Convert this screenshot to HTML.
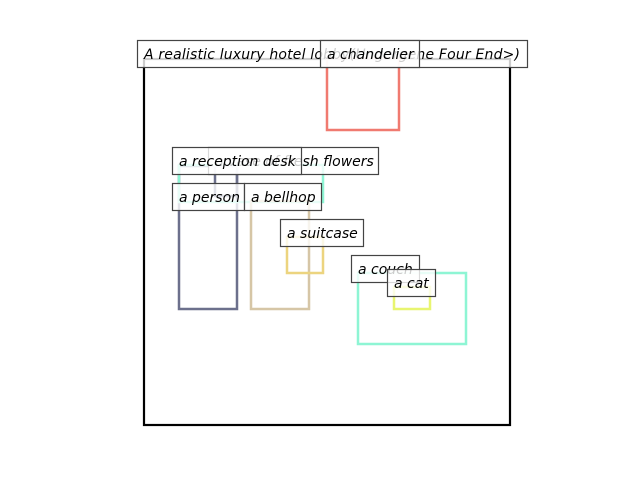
<!DOCTYPE html>
<html><head><style>
html,body{margin:0;padding:0;background:#fff;}
svg{display:block;}
text{font-family:"DejaVu Sans","Liberation Sans",sans-serif;font-style:italic;font-size:14px;fill:#000;stroke:none;}
</style></head><body>
<svg width="640" height="480" viewBox="0 0 640 480" xmlns="http://www.w3.org/2000/svg">
<g fill="none" stroke-width="2.5">
<rect x="144" y="59" width="366" height="366" stroke="#000" stroke-width="2.2"/>
<rect x="327" y="58" width="72" height="72" stroke="#f07a70"/>
<rect x="179" y="166" width="58" height="143" stroke="#6c708c"/>
<rect x="215" y="166" width="22" height="30" stroke="#6c708c"/>
<rect x="179" y="165" width="144" height="37" stroke="#8ef5d4"/>
<rect x="251" y="201" width="58" height="108" stroke="#d6c6a6"/>
<rect x="287" y="237" width="36" height="36" stroke="#ecd47f"/>
<rect x="358" y="273" width="108" height="71" stroke="#8ef5d4"/>
<rect x="394" y="287" width="36" height="22" stroke="#e8f570"/>
</g>
<g stroke="#444" stroke-width="1.2" fill="rgba(255,255,255,0.8)">
<rect x="137.5" y="40.5" width="390" height="27"/>
<text x="144" y="59" textLength="376" lengthAdjust="spacing">A realistic luxury hotel lobby(Ungergene Four End&gt;)</text>
<rect x="320.5" y="40.5" width="99" height="27"/>
<text x="327" y="59">a chandelier</text>
<rect x="208.5" y="147.5" width="170" height="27"/>
<text x="215" y="166">a vase of fresh flowers</text>
<rect x="172.5" y="147.5" width="129" height="27"/>
<text x="179" y="166">a reception desk</text>
<rect x="172.5" y="183.5" width="72" height="27"/>
<text x="179" y="202">a person</text>
<rect x="244.5" y="183.5" width="77" height="27"/>
<text x="251" y="202">a bellhop</text>
<rect x="280.5" y="219.5" width="83" height="27"/>
<text x="287" y="238">a suitcase</text>
<rect x="351.5" y="255.5" width="68" height="27"/>
<text x="358" y="274">a couch</text>
<rect x="387.5" y="269.5" width="48" height="27"/>
<text x="394" y="288">a cat</text>
</g>
</svg>
</body></html>
